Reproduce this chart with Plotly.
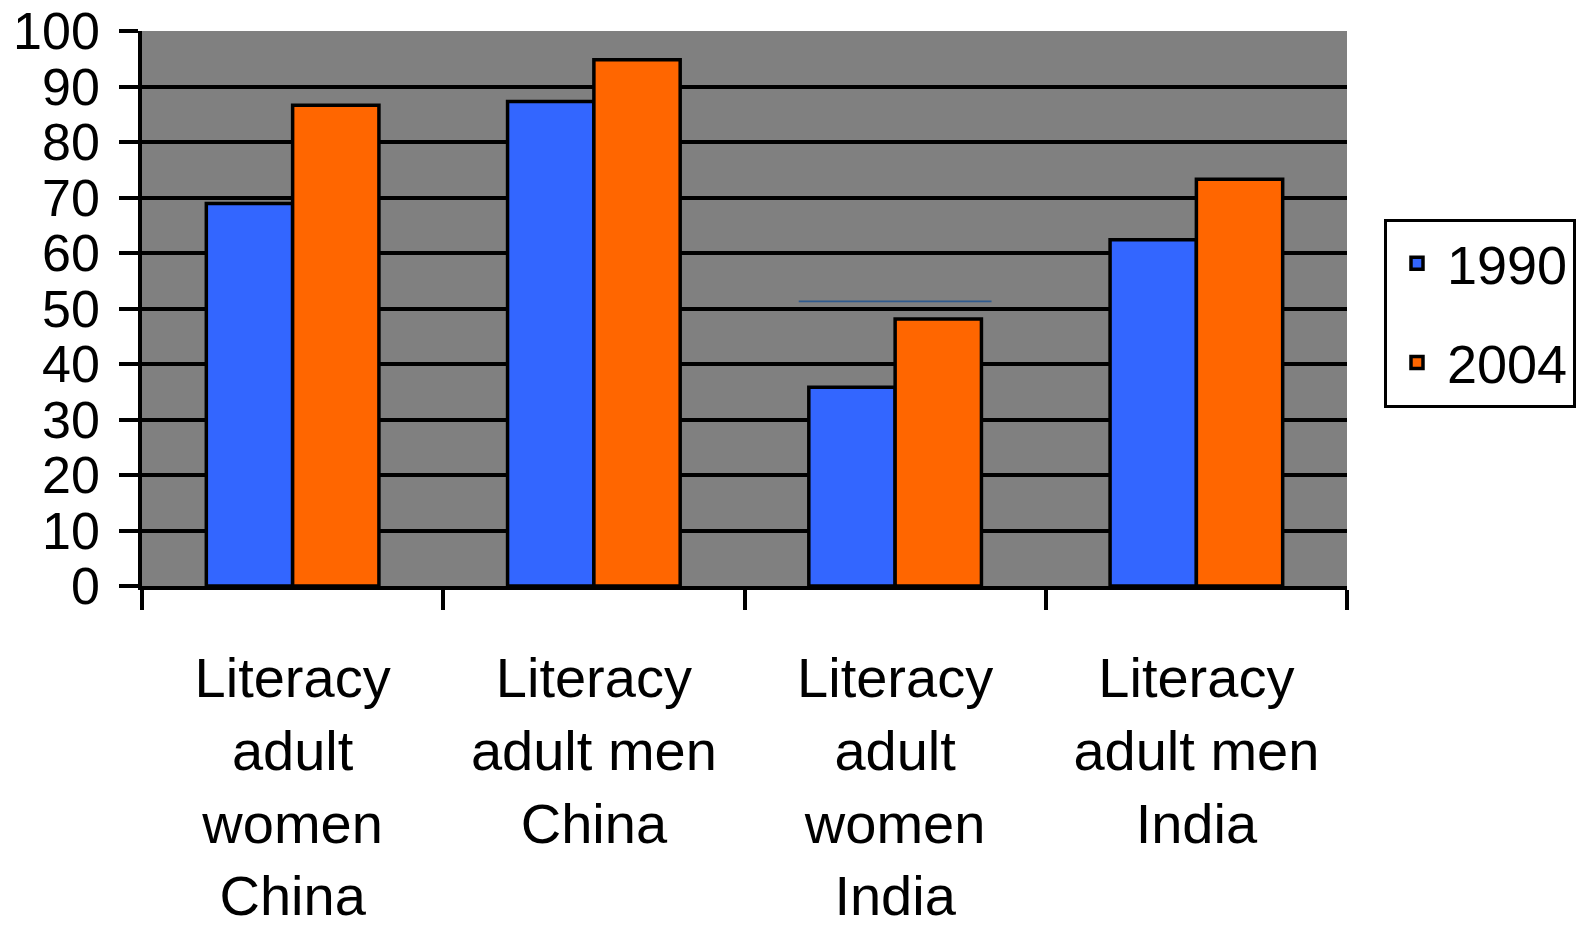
import plotly.graph_objects as go

categories = [
    "Literacy<br>adult<br>women<br>China",
    "Literacy<br>adult men<br>China",
    "Literacy<br>adult<br>women<br>India",
    "Literacy<br>adult men<br>India",
]
values_1990 = [68.9, 87.3, 35.8, 62.4]
values_2004 = [86.6, 94.8, 48.1, 73.3]
y_ticks = [0, 10, 20, 30, 40, 50, 60, 70, 80, 90, 100]
grid_ticks = [10, 20, 30, 40, 50, 60, 70, 80, 90]
# stray thin line visible in the original picture (category index units, value)
stray_x = [1.68, 2.32]
stray_y = [51.3, 51.3]

FONT = "Liberation Sans, Arial, sans-serif"

fig = go.Figure()
fig.add_trace(go.Bar(
    x=categories, y=values_1990, name="1990", legendgroup="a",
    marker=dict(color="#3366FF", line=dict(color="black", width=3.5)),
))
fig.add_trace(go.Bar(
    x=categories, y=values_2004, name="2004", legendgroup="b",
    marker=dict(color="#FF6600", line=dict(color="black", width=3.5)),
))
fig.add_trace(go.Scatter(
    x=stray_x, y=stray_y, mode="lines", xaxis="x2", yaxis="y2", showlegend=False,
    line=dict(color="#2F5A8E", width=1.7), hoverinfo="skip",
))

fig.update_layout(
    width=1591, height=937,
    margin=dict(l=142, r=244, t=31, b=351),
    paper_bgcolor="white",
    plot_bgcolor="#808080",
    bargap=0.427, bargroupgap=0,
    font=dict(family=FONT, color="black"),
    xaxis=dict(
        type="category", automargin=False,
        tickson="boundaries", ticks="outside", ticklen=20, tickwidth=3.5, tickcolor="black",
        showline=True, linecolor="black", linewidth=3.5,
        showgrid=False, zeroline=False,
        tickfont=dict(size=56, family=FONT, color="black"),
        ticklabelstandoff=40,
    ),
    xaxis2=dict(
        range=[-0.5, len(categories) - 0.5], overlaying="x", visible=False,
    ),
    yaxis=dict(
        range=[0, 100], tickmode="array", tickvals=y_ticks, automargin=False,
        ticks="outside", ticklen=19, tickwidth=3.5, tickcolor="black",
        showline=True, linecolor="black", linewidth=3.5,
        showgrid=False, zeroline=False,
        tickfont=dict(size=52, family=FONT, color="black"),
        ticklabelstandoff=9, ticklabeloverflow="allow",
    ),
    yaxis2=dict(
        range=[0, 100], overlaying="y", side="left", tickmode="array", tickvals=grid_ticks,
        showticklabels=False, ticks="", showgrid=True, gridcolor="black", gridwidth=3.5,
        zeroline=False, showline=False, automargin=False,
    ),
    legend=dict(
        x=1.0307, y=0.662, xanchor="left", yanchor="top",
        bgcolor="white", bordercolor="black", borderwidth=3,
        font=dict(size=54, family=FONT, color="black"),
        tracegroupgap=26, itemwidth=50,
    ),
    showlegend=True,
)

fig.write_html("out.html")
